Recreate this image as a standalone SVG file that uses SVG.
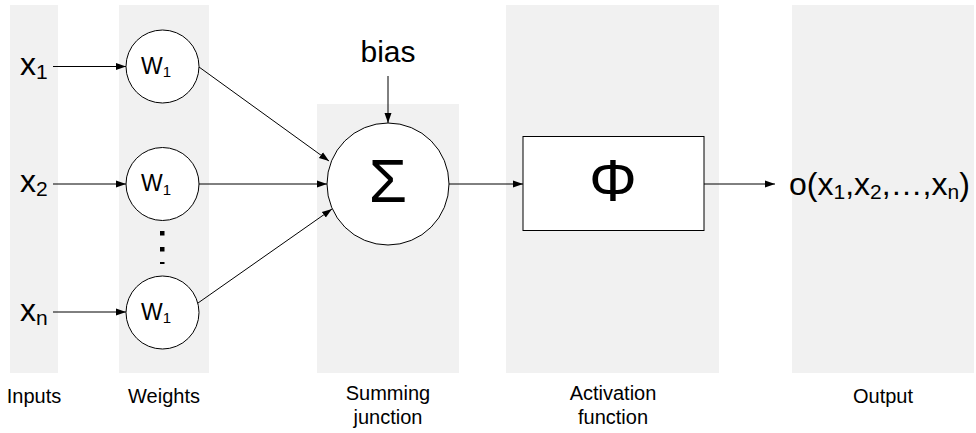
<svg xmlns="http://www.w3.org/2000/svg" width="976" height="433" viewBox="0 0 976 433">
  <style>
    .band { fill: #f1f1f1; }
    .node { fill: #ffffff; stroke: #000000; stroke-width: 1; }
    .edge { stroke: #000000; stroke-width: 1; fill: none; marker-end: url(#arrow); }
    text { font-family: "Liberation Sans", Arial, sans-serif; fill: #000000; }
    .big { font-size: 32px; }
    .sub { font-size: 21px; }
    .w { font-size: 23px; }
    .wsub { font-size: 15px; }
    .caption { font-size: 20px; text-anchor: middle; }
    .mid { text-anchor: middle; }
  </style>
  <defs>
    <marker id="arrow" viewBox="0 0 10 10" refX="10" refY="5" markerWidth="10" markerHeight="10" markerUnits="userSpaceOnUse" orient="auto">
      <path d="M0,1.5 L10,5 L0,8.5 Z" fill="#000000"/>
    </marker>
  </defs>
  <rect width="976" height="433" fill="#ffffff"/>

  <!-- column backgrounds -->
  <g id="bands">
    <rect class="band" x="10" y="5" width="48" height="368"/>
    <rect class="band" x="119" y="5" width="90" height="368"/>
    <rect class="band" x="317" y="104" width="142" height="269"/>
    <rect class="band" x="506" y="5" width="213" height="368"/>
    <rect class="band" x="792" y="5" width="182" height="368"/>
  </g>

  <!-- connectors -->
  <g id="connectors">
    <line class="edge" x1="53" y1="66.5" x2="126" y2="66.5"/>
    <line class="edge" x1="53" y1="184" x2="126" y2="184"/>
    <line class="edge" x1="53" y1="312" x2="126" y2="312"/>
    <line class="edge" x1="199" y1="67" x2="329" y2="161"/>
    <line class="edge" x1="199" y1="184" x2="327" y2="184"/>
    <line class="edge" x1="198" y1="303" x2="332" y2="209"/>
    <line class="edge" x1="388" y1="76" x2="388" y2="123"/>
    <line class="edge" x1="449" y1="184" x2="523" y2="184"/>
    <line class="edge" x1="704" y1="184" x2="775" y2="184"/>
  </g>

  <!-- inputs -->
  <g id="input-x1">
    <text class="big" x="20" y="75">x<tspan class="sub" dy="4">1</tspan></text>
  </g>
  <g id="input-x2">
    <text class="big" x="20" y="192">x<tspan class="sub" dy="4">2</tspan></text>
  </g>
  <g id="input-xn">
    <text class="big" x="20" y="321">x<tspan class="sub" dy="4">n</tspan></text>
  </g>

  <!-- weights -->
  <g id="weight-1">
    <circle class="node" cx="162.5" cy="66.5" r="36.5"/>
    <text class="w" x="141" y="73.5">W<tspan class="wsub" dy="3.5">1</tspan></text>
  </g>
  <g id="weight-2">
    <circle class="node" cx="162.5" cy="184" r="36.5"/>
    <text class="w" x="141" y="191">W<tspan class="wsub" dy="3.5">1</tspan></text>
  </g>
  <g id="weight-n">
    <circle class="node" cx="162.5" cy="312.5" r="36.5"/>
    <text class="w" x="141" y="319.5">W<tspan class="wsub" dy="3.5">1</tspan></text>
  </g>
  <g id="ellipsis">
    <rect x="160" y="231" width="4.5" height="4.5" fill="#000000"/>
    <rect x="160" y="247" width="4.5" height="4.5" fill="#000000"/>
    <rect x="160" y="262" width="4.5" height="2" fill="#000000"/>
  </g>

  <!-- bias -->
  <g id="bias">
    <text class="mid" x="388" y="62" font-size="30">bias</text>
  </g>

  <!-- summing junction -->
  <g id="sum">
    <circle class="node" cx="388" cy="184" r="61"/>
    <text class="mid" x="388" y="202" font-size="62">Σ</text>
  </g>

  <!-- activation function -->
  <g id="activation">
    <rect class="node" x="523" y="136.5" width="181" height="94"/>
    <text class="mid" x="613" y="201" font-size="60">Φ</text>
  </g>

  <!-- output -->
  <g id="output">
    <text class="big" x="789" y="195">o(x<tspan class="sub" dy="4">1</tspan><tspan dy="-4">,x</tspan><tspan class="sub" dy="4">2</tspan><tspan dy="-4">,…,x</tspan><tspan class="sub" dy="4">n</tspan><tspan dy="-4">)</tspan></text>
  </g>

  <!-- captions -->
  <g id="captions">
    <text class="caption" x="34" y="403">Inputs</text>
    <text class="caption" x="164" y="403">Weights</text>
    <text class="caption" x="388" y="400">Summing</text>
    <text class="caption" x="388" y="424">junction</text>
    <text class="caption" x="613" y="400">Activation</text>
    <text class="caption" x="613" y="424">function</text>
    <text class="caption" x="883" y="403">Output</text>
  </g>
</svg>
